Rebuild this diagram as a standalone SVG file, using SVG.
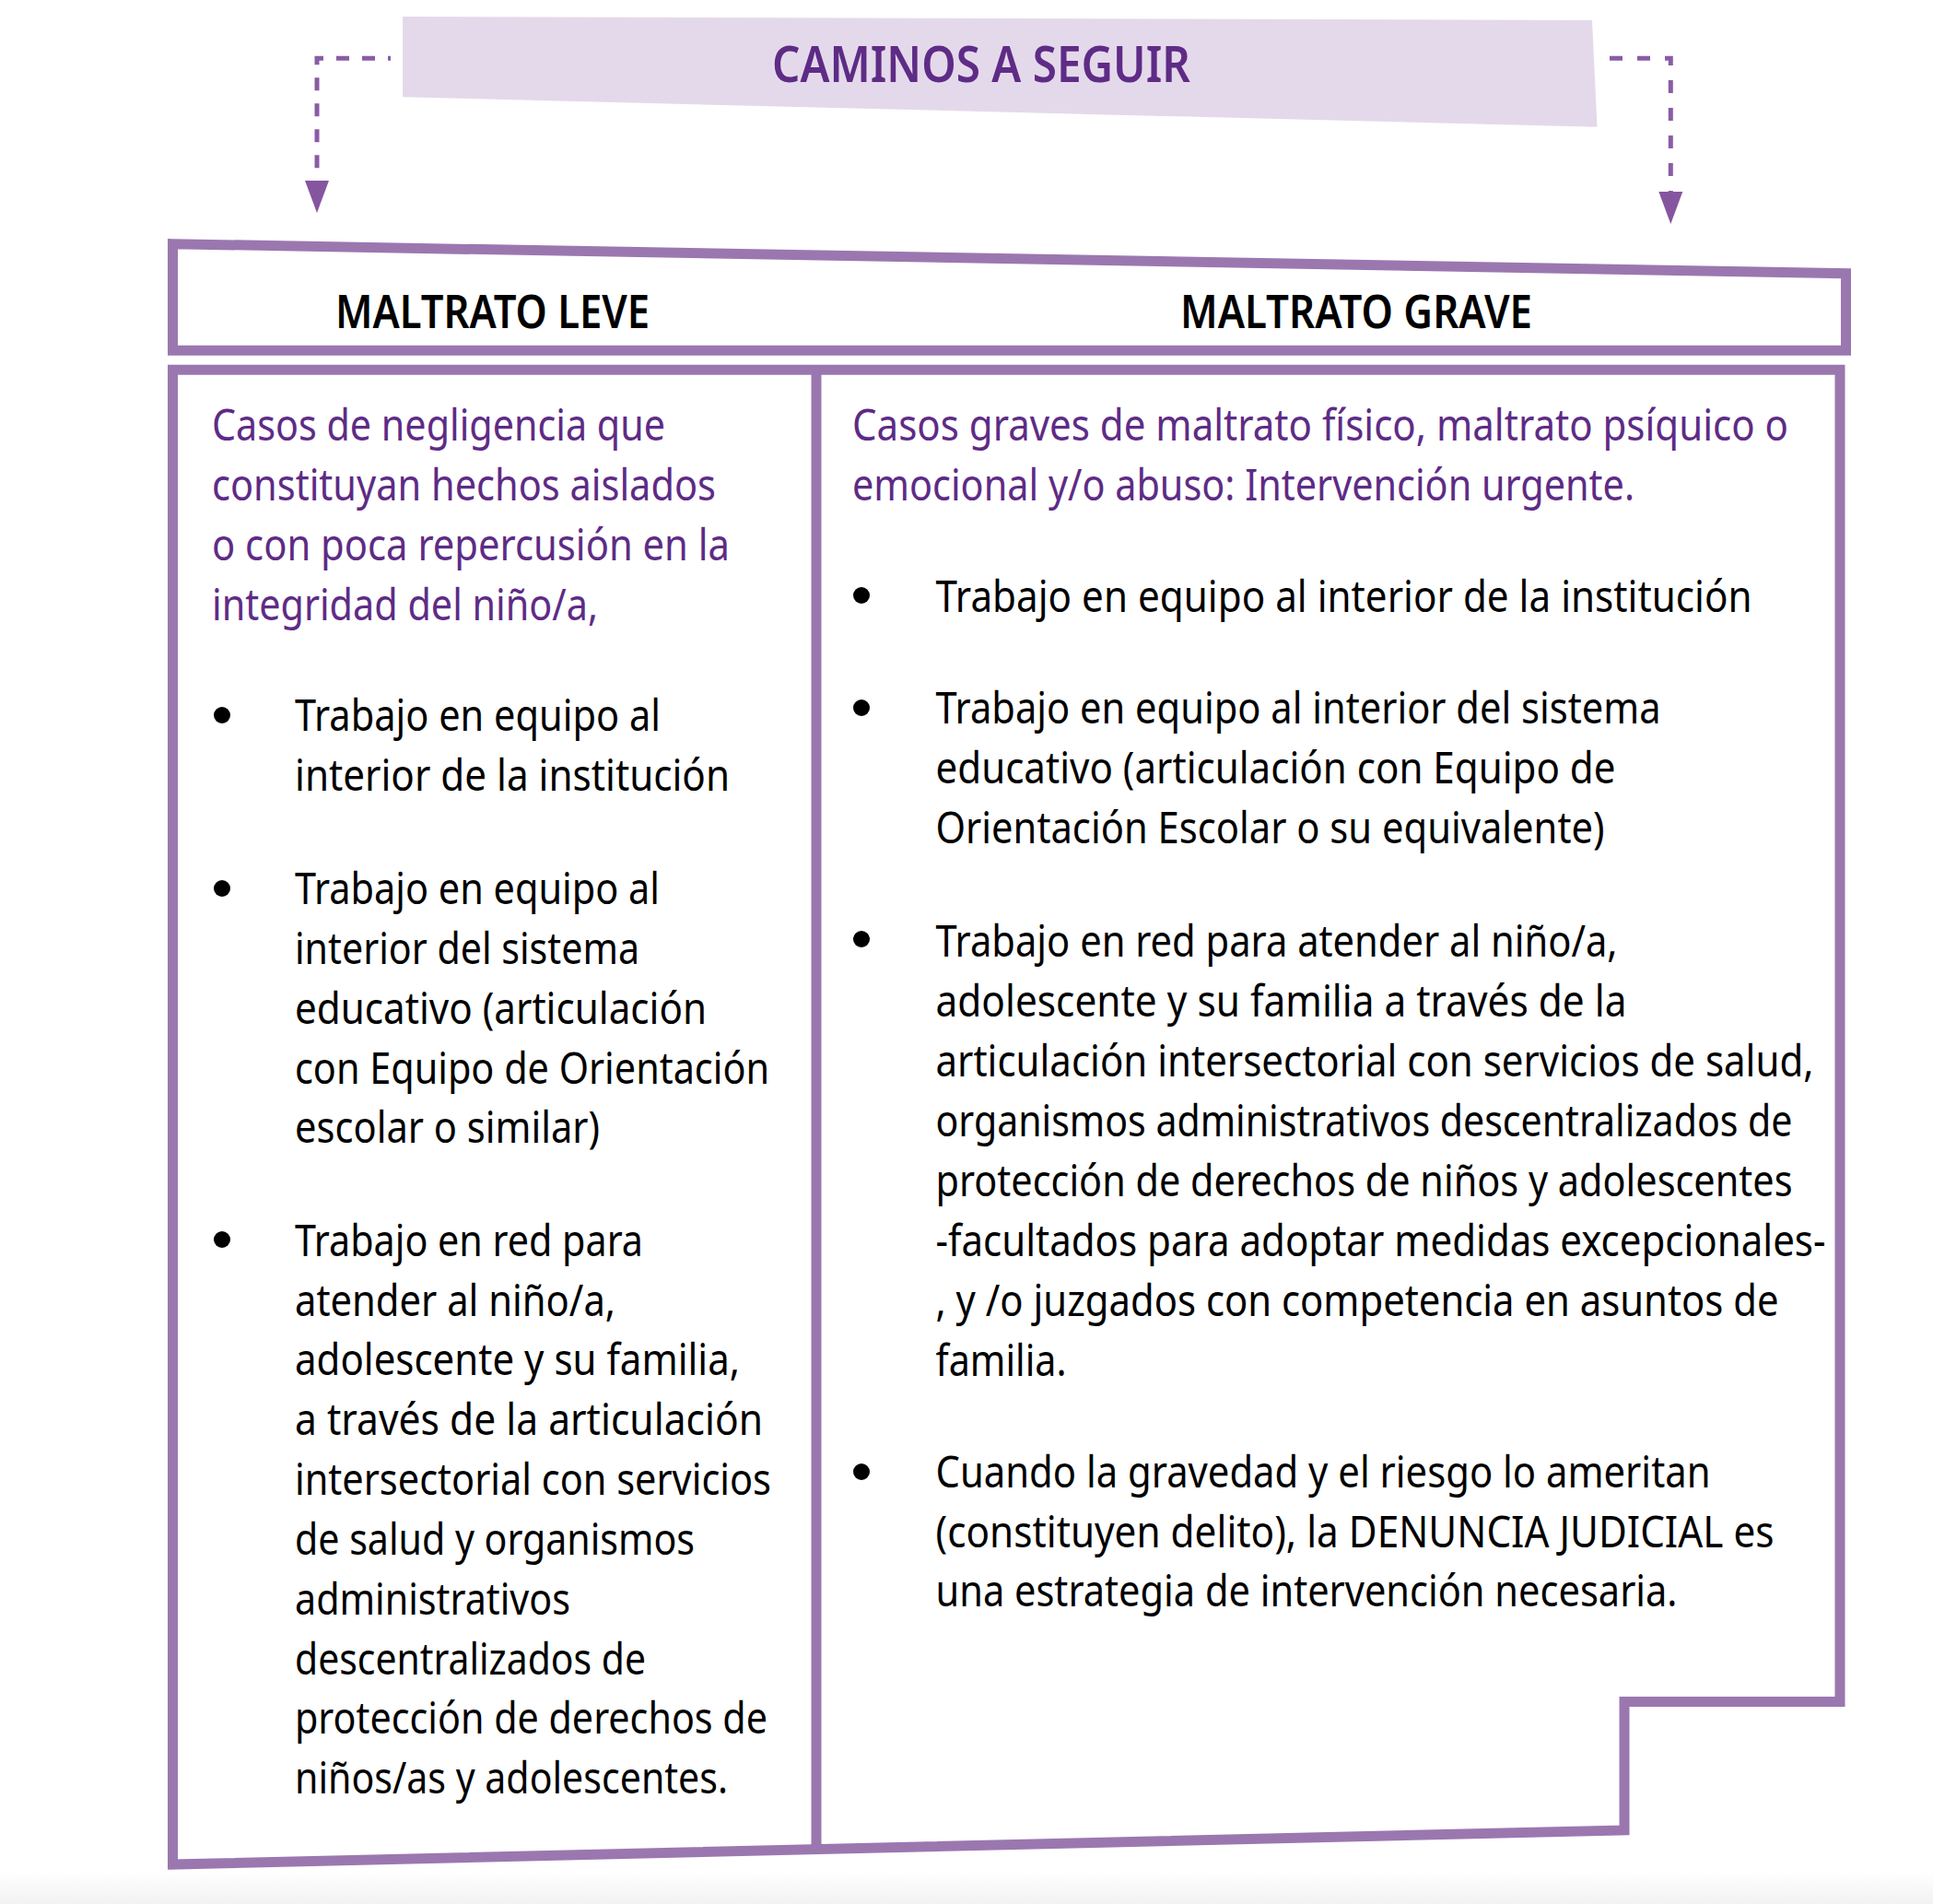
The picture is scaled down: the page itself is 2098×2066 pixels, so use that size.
<svg xmlns="http://www.w3.org/2000/svg" width="2098" height="2066" viewBox="0 0 2098 2066">
<style>
.frame{fill:none;stroke:#9b77b0;stroke-width:11;stroke-linejoin:miter}
.dash{fill:none;stroke:#8a5ca5;stroke-width:5}
.t{font-family:"Noto Sans","Open Sans","Liberation Sans",sans-serif;font-size:47px;fill:#000}
.p{fill:#5e2b86}
.h{font-family:"Noto Sans","Open Sans","Liberation Sans",sans-serif;font-size:50px;font-weight:600;fill:#000}
.title{font-family:"Noto Sans","Open Sans","Liberation Sans",sans-serif;font-size:54px;font-weight:600;fill:#5e2b86}
.b{fill:#000}
</style>
<defs>
<marker id="arr" markerUnits="userSpaceOnUse" markerWidth="36" markerHeight="28" refX="0" refY="13" orient="auto" viewBox="0 0 36 26">
<path d="M0,0 L35,13 L0,26 Z" fill="#8655a0"/>
</marker>
<linearGradient id="bg" x1="0" y1="0" x2="0" y2="1">
<stop offset="0" stop-color="#ffffff"/>
<stop offset="1" stop-color="#f2f2f2"/>
</linearGradient>
</defs>
<rect x="0" y="0" width="2098" height="2066" fill="#ffffff"/>
<rect x="0" y="2030" width="2098" height="36" fill="url(#bg)"/>

<g id="title">
<polygon points="437,18 1728,22 1733.5,137.7 437,105.3" fill="#e4d9ea"/>
<text class="title" x="838" y="89" textLength="454" lengthAdjust="spacingAndGlyphs">CAMINOS A SEGUIR</text>
</g>

<g id="connectors">
<path class="dash" d="M424,63.3 H344 V196" stroke-dasharray="14 14" stroke-dashoffset="11" marker-end="url(#arr)"/>
<path class="dash" d="M1733,63.3 H1813.3 V208" stroke-dasharray="14 16" stroke-dashoffset="16" marker-end="url(#arr)"/>
</g>

<g id="header">
<path class="frame" d="M187.5,264.7 L2003.5,296.7 L2003.5,380.3 L187.5,380.3 Z"/>
<text class="h" x="364" y="356" textLength="341" lengthAdjust="spacingAndGlyphs">MALTRATO LEVE</text>
<text class="h" x="1281" y="356" textLength="382" lengthAdjust="spacingAndGlyphs">MALTRATO GRAVE</text>
</g>

<g id="body-frame">
<path class="frame" d="M187.5,401.2 L1997,401.2 L1997,1846.5 L1763,1846.5 L1763,1986 L187.5,2023 Z"/>
<path class="frame" d="M886,401.2 L886,2006.6"/>
</g>

<g id="leve">
<text class="t p" x="230" y="478" textLength="492" lengthAdjust="spacingAndGlyphs">Casos de negligencia que</text>
<text class="t p" x="230" y="543" textLength="547" lengthAdjust="spacingAndGlyphs">constituyan hechos aislados</text>
<text class="t p" x="230" y="608" textLength="562" lengthAdjust="spacingAndGlyphs">o con poca repercusión en la</text>
<text class="t p" x="230" y="673" textLength="419" lengthAdjust="spacingAndGlyphs">integridad del niño/a,</text>

<circle class="b" cx="241" cy="776" r="9"/>
<text class="t" x="320" y="793" textLength="397" lengthAdjust="spacingAndGlyphs">Trabajo en equipo al</text>
<text class="t" x="320" y="858" textLength="472" lengthAdjust="spacingAndGlyphs">interior de la institución</text>

<circle class="b" cx="241" cy="964" r="9"/>
<text class="t" x="320" y="981" textLength="396" lengthAdjust="spacingAndGlyphs">Trabajo en equipo al</text>
<text class="t" x="320" y="1045.5" textLength="374" lengthAdjust="spacingAndGlyphs">interior del sistema</text>
<text class="t" x="320" y="1110.5" textLength="447" lengthAdjust="spacingAndGlyphs">educativo (articulación</text>
<text class="t" x="320" y="1175.5" textLength="515" lengthAdjust="spacingAndGlyphs">con Equipo de Orientación</text>
<text class="t" x="320" y="1240" textLength="331" lengthAdjust="spacingAndGlyphs">escolar o similar)</text>

<circle class="b" cx="241" cy="1345" r="9"/>
<text class="t" x="320" y="1363" textLength="378" lengthAdjust="spacingAndGlyphs">Trabajo en red para</text>
<text class="t" x="320" y="1427.5" textLength="348" lengthAdjust="spacingAndGlyphs">atender al niño/a,</text>
<text class="t" x="320" y="1492" textLength="483" lengthAdjust="spacingAndGlyphs">adolescente y su familia,</text>
<text class="t" x="320" y="1557" textLength="508" lengthAdjust="spacingAndGlyphs">a través de la articulación</text>
<text class="t" x="320" y="1622" textLength="517" lengthAdjust="spacingAndGlyphs">intersectorial con servicios</text>
<text class="t" x="320" y="1687" textLength="434" lengthAdjust="spacingAndGlyphs">de salud y organismos</text>
<text class="t" x="320" y="1752" textLength="299" lengthAdjust="spacingAndGlyphs">administrativos</text>
<text class="t" x="320" y="1816.5" textLength="381" lengthAdjust="spacingAndGlyphs">descentralizados de</text>
<text class="t" x="320" y="1881" textLength="513" lengthAdjust="spacingAndGlyphs">protección de derechos de</text>
<text class="t" x="320" y="1946" textLength="470" lengthAdjust="spacingAndGlyphs">niños/as y adolescentes.</text>
</g>

<g id="grave">
<text class="t p" x="925" y="478" textLength="1016" lengthAdjust="spacingAndGlyphs">Casos graves de maltrato físico, maltrato psíquico o</text>
<text class="t p" x="925" y="543" textLength="849" lengthAdjust="spacingAndGlyphs">emocional y/o abuso: Intervención urgente.</text>

<circle class="b" cx="935" cy="646" r="9"/>
<text class="t" x="1015.5" y="663.5" textLength="886" lengthAdjust="spacingAndGlyphs">Trabajo en equipo al interior de la institución</text>

<circle class="b" cx="935" cy="768" r="9"/>
<text class="t" x="1015.5" y="785" textLength="787" lengthAdjust="spacingAndGlyphs">Trabajo en equipo al interior del sistema</text>
<text class="t" x="1015.5" y="850" textLength="738" lengthAdjust="spacingAndGlyphs">educativo (articulación con Equipo de</text>
<text class="t" x="1015.5" y="915" textLength="726" lengthAdjust="spacingAndGlyphs">Orientación Escolar o su equivalente)</text>

<circle class="b" cx="935" cy="1019" r="9"/>
<text class="t" x="1015.5" y="1037.5" textLength="740" lengthAdjust="spacingAndGlyphs">Trabajo en red para atender al niño/a,</text>
<text class="t" x="1015.5" y="1102.5" textLength="750" lengthAdjust="spacingAndGlyphs">adolescente y su familia a través de la</text>
<text class="t" x="1015.5" y="1167.5" textLength="953" lengthAdjust="spacingAndGlyphs">articulación intersectorial con servicios de salud,</text>
<text class="t" x="1015.5" y="1232.5" textLength="930" lengthAdjust="spacingAndGlyphs">organismos administrativos descentralizados de</text>
<text class="t" x="1015.5" y="1297.5" textLength="930" lengthAdjust="spacingAndGlyphs">protección de derechos de niños y adolescentes</text>
<text class="t" x="1015.5" y="1362.5" textLength="966" lengthAdjust="spacingAndGlyphs">-facultados para adoptar medidas excepcionales-</text>
<text class="t" x="1015.5" y="1427.5" textLength="915" lengthAdjust="spacingAndGlyphs">, y /o juzgados con competencia en asuntos de</text>
<text class="t" x="1015.5" y="1492.5" textLength="142" lengthAdjust="spacingAndGlyphs">familia.</text>

<circle class="b" cx="935" cy="1597" r="9"/>
<text class="t" x="1015.5" y="1613.5" textLength="841" lengthAdjust="spacingAndGlyphs">Cuando la gravedad y el riesgo lo ameritan</text>
<text class="t" x="1015.5" y="1678.5" textLength="910" lengthAdjust="spacingAndGlyphs">(constituyen delito), la DENUNCIA JUDICIAL es</text>
<text class="t" x="1015.5" y="1743" textLength="805" lengthAdjust="spacingAndGlyphs">una estrategia de intervención necesaria.</text>
</g>
</svg>
